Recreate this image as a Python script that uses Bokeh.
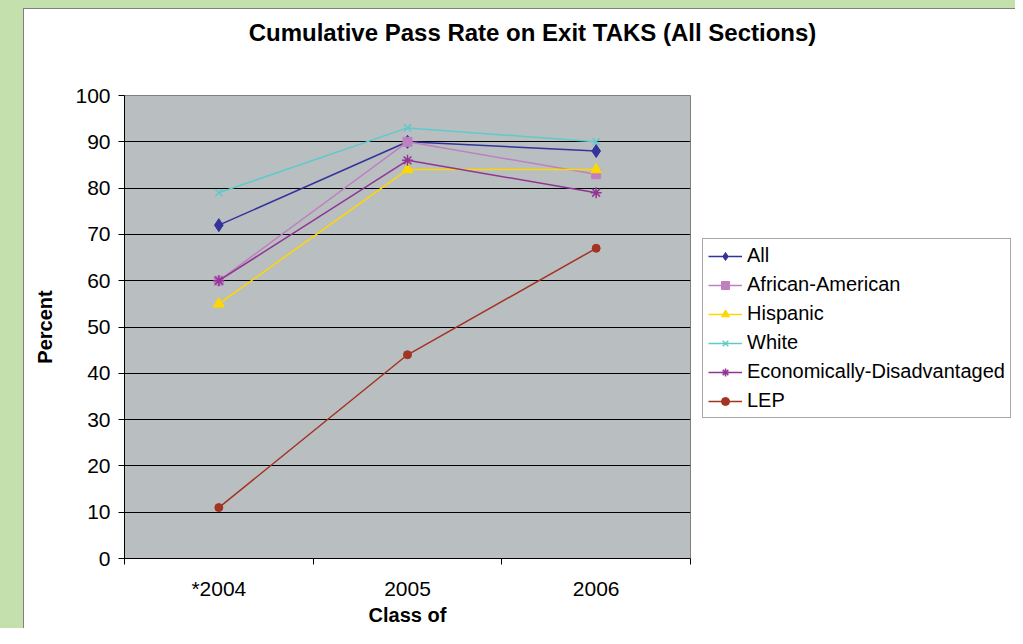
from bokeh.plotting import figure
from bokeh.models import FixedTicker, Range1d, Label, Legend, LegendItem
from bokeh.layouts import column, row
from bokeh.embed import file_html
from bokeh.resources import INLINE

# ---- data ----
categories = ["*2004", "2005", "2006"]
all_students = [72, 90, 88]
african_american = [60, 90, 83]
hispanic = [55, 84, 84]
white = [79, 93, 90]
econ_disadv = [60, 86, 79]
lep = [11, 44, 67]
y_ticks = list(range(0, 101, 10))
title_text = "Cumulative Pass Rate on Exit TAKS (All Sections)"

xs = [1, 2, 3]
FONT = "Liberation Sans"

series = [
    ("All", all_students, "#333399", "diamond", 13),
    ("African-American", african_american, "#bf80bf", "square", 9),
    ("Hispanic", hispanic, "#ffd700", "triangle", 11),
    ("White", white, "#5fcaca", "x", 10),
    ("Economically-Disadvantaged", econ_disadv, "#913594", "asterisk", 11),
    ("LEP", lep, "#a33322", "circle", 8),
]


def draw(fig, x, vals, color, marker, size):
    r1 = fig.line(x, vals, line_color=color, line_width=1.5)
    if marker in ("x", "asterisk"):
        r2 = fig.scatter(x, vals, marker=marker, size=size, line_color=color,
                         line_width=1.5)
    else:
        r2 = fig.scatter(x, vals, marker=marker, size=size, fill_color=color,
                         line_color=color)
    return [r1, r2]


# ---- title strip ----
tfig = figure(width=991, height=74, output_backend="svg", toolbar_location=None,
              x_axis_type=None, y_axis_type=None, min_border=0,
              x_range=Range1d(0, 991), y_range=Range1d(0, 74))
tfig.outline_line_color = None
tfig.background_fill_color = "white"
tfig.border_fill_color = "white"
tfig.add_layout(Label(x=508, y=51, text=title_text, text_font=FONT,
                      text_font_size="24px", text_font_style="bold",
                      text_color="black", text_align="center",
                      text_baseline="middle"))

# ---- main chart ----
p = figure(width=668, height=545, output_backend="svg", toolbar_location=None,
           x_range=Range1d(0.5, 3.5), y_range=Range1d(0, 100),
           min_border_left=100, min_border_right=2, min_border_top=12,
           min_border_bottom=66)
p.background_fill_color = "#b9bec1"
p.border_fill_color = "white"
p.outline_line_color = "#808080"

for name, vals, color, marker, size in series:
    draw(p, xs, vals, color, marker, size)

p.xaxis.ticker = FixedTicker(ticks=xs, minor_ticks=[0.5, 1.5, 2.5, 3.5])
p.xaxis.major_label_overrides = {x: c for x, c in zip(xs, categories)}
p.xaxis.major_tick_in = 0
p.xaxis.major_tick_out = 6
p.xaxis.minor_tick_in = 0
p.xaxis.minor_tick_out = 6
p.xaxis.minor_tick_line_color = "black"
p.xaxis.major_label_standoff = 12
p.xaxis.axis_label = "Class of"
p.xaxis.axis_label_standoff = 1

p.yaxis.ticker = FixedTicker(ticks=y_ticks)
p.yaxis.minor_tick_line_color = None
p.yaxis.major_tick_in = 0
p.yaxis.major_tick_out = 6
p.yaxis.major_label_standoff = 8
p.yaxis.axis_label = "Percent"
p.yaxis.axis_label_standoff = 16

for ax in (p.xaxis, p.yaxis):
    ax.axis_line_color = "black"
    ax.major_label_text_font = FONT
    ax.major_label_text_font_size = "21px"
    ax.major_label_text_color = "black"
    ax.axis_label_text_font = FONT
    ax.axis_label_text_font_size = "20px"
    ax.axis_label_text_font_style = "bold"
    ax.axis_label_text_color = "black"
p.yaxis.major_tick_line_color = "black"
p.xaxis.major_tick_line_color = None

p.xgrid.grid_line_color = None
p.ygrid.grid_line_color = "black"
p.ygrid.grid_line_width = 1

# ---- legend strip (same series drawn off-range, used as legend keys) ----
lfig = figure(width=323, height=545, output_backend="svg", toolbar_location=None,
              x_axis_type=None, y_axis_type=None, min_border=0,
              x_range=Range1d(100, 101), y_range=Range1d(0, 1))
lfig.outline_line_color = None
lfig.background_fill_color = "white"
lfig.border_fill_color = "white"
items = []
for name, vals, color, marker, size in series:
    rs = draw(lfig, xs, vals, color, marker, size)
    items.append(LegendItem(label=name, renderers=rs))
leg = Legend(items=items, location=(10, 140))
leg.label_text_font = FONT
leg.label_text_font_size = "20px"
leg.label_text_color = "black"
leg.border_line_color = "#505050"
leg.background_fill_color = "white"
leg.background_fill_alpha = 1
leg.padding = 5
leg.margin = 0
leg.spacing = 6
leg.glyph_height = 20
leg.label_height = 20
leg.glyph_width = 34
leg.label_standoff = 5
lfig.add_layout(leg)

chart = column(tfig, row(p, lfig))
chart.margin = (1, 0, 0, 1)
chart.styles = {"background-color": "white"}
edge = column(chart, styles={"background-color": "#808080"})
edge.margin = (8, 0, 0, 23)
outer = column(edge, styles={"background-color": "#c4e0ad"})

open("out.html", "w").write(file_html(outer, INLINE))
